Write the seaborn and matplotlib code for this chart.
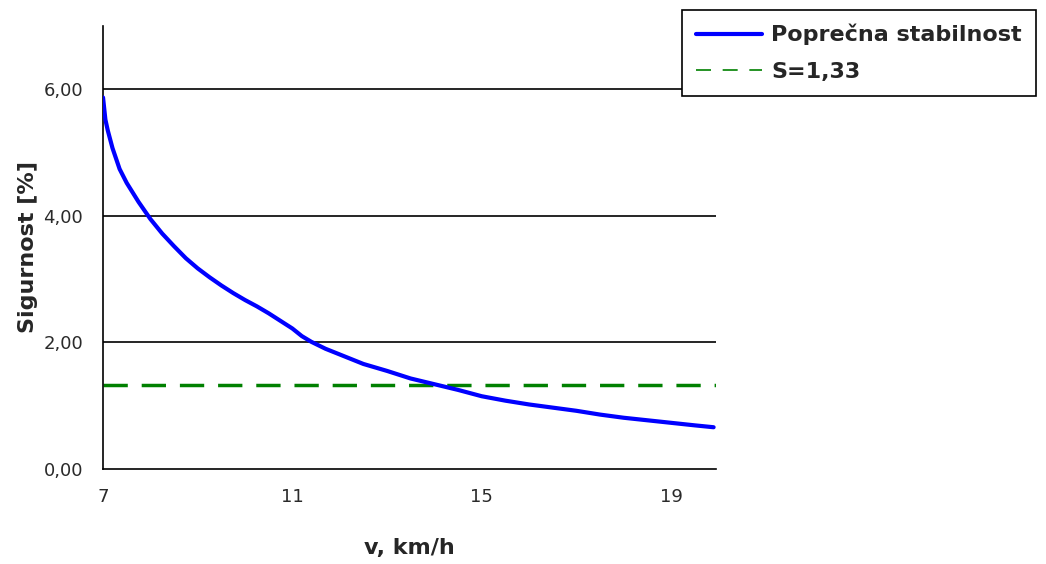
import pandas as pd
import seaborn as sns
import matplotlib.pyplot as plt
from matplotlib.lines import Line2D
from matplotlib.ticker import FuncFormatter

# Podaci očitani s grafa
brzina = [7.0, 7.05, 7.1, 7.2, 7.35, 7.5, 7.75, 8.0, 8.25, 8.5, 8.75, 9.0, 9.25,
          9.5, 9.75, 10.0, 10.25, 10.5, 10.75, 11.0, 11.2, 11.4, 11.7, 12.0, 12.5,
          13.0, 13.5, 14.0, 14.5, 15.0, 15.5, 16.0, 16.5, 17.0, 17.5, 18.0, 18.5,
          19.0, 19.5, 19.9]
sigurnost = [5.87, 5.52, 5.35, 5.07, 4.74, 4.52, 4.22, 3.95, 3.72, 3.52, 3.33, 3.17, 3.03,
             2.90, 2.78, 2.67, 2.57, 2.46, 2.34, 2.22, 2.10, 2.01, 1.90, 1.81, 1.66,
             1.55, 1.43, 1.34, 1.25, 1.15, 1.08, 1.02, 0.97, 0.92, 0.86, 0.81, 0.77,
             0.73, 0.69, 0.66]
granica = 1.33
x_ticks = [7, 11, 15, 19]
y_ticks = [0, 2, 4, 6]

df = pd.DataFrame({"v": brzina, "S": sigurnost})

sns.set_style("white")
plt.rcParams["font.family"] = ["DejaVu Sans"]

fig = plt.figure(figsize=(10.46, 5.64), dpi=100)
ax = fig.add_axes([0.0985, 0.1684, 0.586, 0.7856])

# mreža
for yv in y_ticks[1:]:
    ax.axhline(yv, color="black", lw=1.2, zorder=1)

ax.axhline(granica, color="#008000", lw=2.5, dashes=(7, 4), zorder=2)
sns.lineplot(data=df, x="v", y="S", color="#0000FF", lw=3, ax=ax, zorder=3)

ax.set_xlim(7, 19.95)
ax.set_ylim(0, 7)
ax.set_xticks(x_ticks)
ax.set_yticks(y_ticks)
ax.yaxis.set_major_formatter(FuncFormatter(lambda v, p: f"{v:.2f}".replace(".", ",")))
ax.tick_params(axis="both", width=1.2, color="black", labelsize=13, labelcolor="#2a2a2a")
ax.tick_params(axis="x", direction="out", length=5, pad=9)
ax.tick_params(axis="y", direction="inout", length=13, pad=8)

for s in ["top", "right"]:
    ax.spines[s].set_visible(False)
for s in ["left", "bottom"]:
    ax.spines[s].set_color("black")
    ax.spines[s].set_linewidth(1.2)

ax.set_xlabel("v, km/h", fontsize=16, fontweight="bold", labelpad=23)
ax.set_ylabel("Sigurnost [%]", fontsize=16, fontweight="bold", labelpad=4)

handles = [
    Line2D([], [], color="#0000FF", lw=3),
    Line2D([], [], color="#008000", lw=1.2, dashes=(9, 7)),
]
leg = fig.legend(handles, ["Poprečna stabilnost", "S=1,33"],
                 loc="upper left", bbox_to_anchor=(0.652, 0.982),
                 bbox_transform=fig.transFigure, borderaxespad=0,
                 prop={"weight": "bold", "size": 16}, handlelength=3.0,
                 handletextpad=0.4, borderpad=0.62, labelspacing=0.75,
                 frameon=True, fancybox=False, framealpha=1)
leg.get_frame().set_edgecolor("black")
leg.get_frame().set_linewidth(1.2)
leg.set_zorder(10)

fig.savefig("out.png", dpi=100)
